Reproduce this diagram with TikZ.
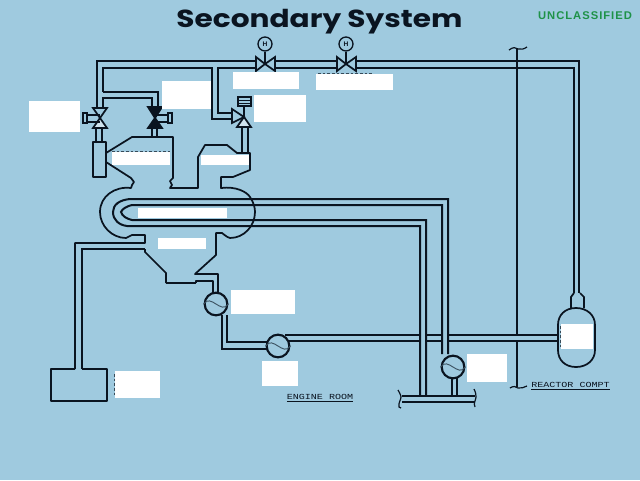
\documentclass[tikz,border=0pt]{standalone}
\usepackage{fontspec}
\usepackage{tikz}
\usetikzlibrary{positioning, calc, backgrounds}
\setmainfont{Liberation Sans}
\newfontfamily\titlefont[FakeStretch=1.2]{Poppins}
\newfontfamily\classfont[LetterSpace=9]{Liberation Sans}
\newfontfamily\placefont[FakeStretch=1.3]{Liberation Mono}
\definecolor{bgblue}{HTML}{9FCADF}
\definecolor{pipeblack}{HTML}{0A1420}
\definecolor{valvepale}{HTML}{CFE3EE}
\definecolor{classgreen}{HTML}{1E9248}
\tikzset{
    pipe/.style={line width=1.5pt, pipeblack, line join=miter},
    heavypipe/.style={line width=2pt, pipeblack, line join=miter},
    shell/.style={line width=1.3pt, pipeblack, line join=round},
    thinline/.style={line width=0.9pt, pipeblack},
    valveleaf/.style={line width=1.3pt, draw=pipeblack, fill=bgblue},
    pumpbody/.style={circle, draw=pipeblack, line width=1.6pt, fill=bgblue, minimum size=17pt, inner sep=0pt},
    gaugebody/.style={circle, draw=pipeblack, line width=1pt, fill=bgblue, minimum size=10.5pt, inner sep=0pt, font=\fontsize{5}{5}\selectfont\bfseries, text=pipeblack},
    wave/.style={line width=0.7pt, pipeblack!65!bgblue},
    maskbox/.style={fill=white, inner sep=0pt},
    placetag/.style={font=\placefont\fontsize{5.8}{6}\selectfont, text=pipeblack, inner sep=0pt},
    residue/.style={line width=0.6pt, pipeblack!70!bgblue, dash pattern=on 2pt off 1.5pt}
}
\begin{document}
\begin{tikzpicture}[x=0.75pt, y=-0.75pt]
    \fill[bgblue] (0,0) rectangle (640,480);
    \useasboundingbox (0,0) rectangle (640,480);
    % titles
    \node[font=\titlefont\fontsize{18.5}{20}\selectfont\bfseries, text=pipeblack, inner sep=0pt, anchor=base] (title) at (319.5,27) {Secondary System};
    \node[font=\classfont\fontsize{8.4}{9}\selectfont\bfseries, text=classgreen, inner sep=0pt] (classmark) at (585,16) {UNCLASSIFIED};

    % bulkhead
    \draw[thinline] (517,48) -- (517,335) (517,341) -- (517,387);
    \draw[thinline] (509,50) .. controls (513,47) and (516,47) .. (518,49) .. controls (521,50) and (524,49) .. (527,47);
    \draw[thinline] (510,388) .. controls (513,386) and (516,386) .. (518,388) .. controls (521,389) and (524,387) .. (527,386);

    % main steam
    \draw[pipe] (97,108) -- (97,61) -- (256,61);
    \draw[pipe] (276,61) -- (336,61) (356,61) -- (579,61) -- (579,293);
    \draw[pipe] (276,68) -- (336,68) (356,68) -- (574,68) -- (574,293);
    \draw[pipe] (256,68) -- (218,68) -- (218,113) -- (232,113);
    \draw[pipe] (103,92) -- (103,68) -- (212,68) -- (212,119) -- (232,119);
    \draw[pipe] (103,92) -- (158,92) -- (158,107);
    \draw[pipe] (103,108) -- (103,98) -- (152,98) -- (152,107);
    \draw[pipe] (96,128) -- (96,142) (102,128) -- (102,142);
    \draw[pipe] (152,128) -- (152,137) (157,128) -- (157,137);
    \draw[line width=2.2pt, pipeblack] (242,127) -- (242,153);
    \draw[pipe] (248,127) -- (248,153);

    % valves on the steam line
    \foreach \i/\x in {1/265, 2/346} {
        \draw[valveleaf] (\x-9,57) -- (\x,64) -- (\x-9,71) -- cycle;
        \draw[valveleaf] (\x+10,57) -- (\x,64) -- (\x+10,71) -- cycle;
        \node[gaugebody] (gauge\i) at (\x,44) {H};
        \draw[thinline] (gauge\i) -- (\x,64);
    }
    % stop valve
    \draw[valveleaf] (93,108) -- (107,108) -- (100,118) -- cycle;
    \draw[valveleaf, fill=valvepale] (93,128) -- (107,128) -- (100,118) -- cycle;
    \draw[thinline] (87,115) -- (100,115) (87,122) -- (100,122);
    \draw[thinline] (83,113) rectangle (87,123);
    % control valve
    \draw[valveleaf, fill=pipeblack] (148,107) -- (162,107) -- (155,118) -- cycle;
    \draw[valveleaf, fill=pipeblack] (148,128) -- (162,128) -- (155,118) -- cycle;
    \draw[thinline] (155,115) -- (168,115) (155,122) -- (168,122);
    \draw[thinline] (168,113) rectangle (172,123);
    % relief valve
    \draw[valveleaf] (232,109) -- (244,117) -- (232,123) -- cycle;
    \draw[valveleaf, fill=valvepale] (237,127) -- (251,127) -- (244,117) -- cycle;
    \draw[thinline] (244,117) -- (244,106);
    \draw[thinline] (238,97) rectangle (251,106);
    \draw[line width=0.6pt, pipeblack] (238,100) -- (251,100) (238,103) -- (251,103);

    % turbine casing
    \draw[shell] (93,142) rectangle (106,177);
    \draw[shell] (106,153) -- (132,137) -- (173,137) -- (173,178) -- (170,181) -- (172,185) -- (170,188) -- (198,188)
        -- (198,157) -- (205,145) -- (227,145) -- (237,153) -- (250,153) -- (250,170) -- (233,177) -- (221,177) -- (221,188)
        .. controls (236,186) and (247,192) .. (250,197) .. controls (254,203) and (255,208) .. (255,212)
        .. controls (255,226) and (244,238) .. (230,238) .. controls (226,237) and (224,234) .. (222,233)
        -- (216,233) -- (216,255) -- (195,274) -- (218,274) -- (218,293);
    \draw[shell] (106,162) -- (131,178) -- (134,182) -- (132,185) -- (131,188)
        .. controls (115,186) and (100,196) .. (100,212) .. controls (100,226) and (112,238) .. (126,238)
        -- (132,235) -- (145,235) -- (145,243) -- (75,243) -- (75,369);
    \draw[heavypipe] (82,369) -- (82,249) -- (145,249);
    \draw[shell] (145,249) -- (145,252) -- (166,273) -- (166,283);
    \draw[heavypipe] (166,283) -- (196,283);
    \draw[shell] (196,283) -- (196,281) -- (213,281) -- (213,293);

    % tube bundle and circulating water
    \draw[pipe] (448,354) -- (448,199) -- (130,199) .. controls (119,200) and (113,205) .. (113,212)
        .. controls (113,220) and (119,225) .. (127,226) -- (420,226) -- (420,396);
    \draw[pipe] (442,354) -- (442,205) -- (132,205) .. controls (127,206) and (122,209) .. (121,212)
        .. controls (122,216) and (127,219) .. (132,220) -- (426,220) -- (426,396);

    % condenser water main
    \draw[pipe] (402,396) -- (475,396) (402,402) -- (475,402);
    \draw[thinline] (398,390) .. controls (401,395) and (401,397) .. (401,397) .. controls (401,400) and (398,403) .. (399,407) -- (401,408);
    \draw[thinline] (474,389) .. controls (476,393) and (476,395) .. (476,397) .. controls (476,400) and (473,403) .. (475,407);
    \draw[pipe] (452,378) -- (452,396) (457,378) -- (457,396);

    % feed line
    \draw[heavypipe] (222,315) -- (222,349) -- (267,349);
    \draw[pipe] (227,315) -- (227,342) -- (267,342);
    \draw[heavypipe] (285,335) -- (420,335) (426,335) -- (442,335) (448,335) -- (558,335);
    \draw[pipe] (288,341) -- (420,341) (426,341) -- (442,341) (448,341) -- (558,341);

    % pumps
    \foreach \i/\x/\y in {1/216/304, 2/278/346, 3/453/367} {
        \node[pumpbody] (pump\i) at (\x,\y) {};
        \draw[wave] (pump\i.west) .. controls ($(pump\i.center)+(-5,-11)$) and ($(pump\i.center)+(5,11)$) .. (pump\i.east);
    }

    % steam generator
    \draw[shell] (558,325) .. controls (558,315) and (565,308) .. (576,308) .. controls (587,308) and (595,315) .. (595,325)
        -- (595,350) .. controls (595,360) and (587,367) .. (576,367) .. controls (565,367) and (558,360) .. (558,350) -- cycle;
    \draw[shell] (571,308) -- (571,297) -- (574,293) (584,308) -- (584,297) -- (580,293);

    % feed tank
    \draw[shell] (75,369) -- (51,369) -- (51,401) -- (107,401) -- (107,369) -- (82,369);
    \draw[heavypipe] (51,369) -- (75,369) (82,369) -- (107,369);

    % what shows round the masks
    \draw[residue] (318,73) -- (372,73) (112,151) -- (170,151);
    \draw[residue] (560,326) -- (560,348) (114,374) -- (114,396);

    % masked labels
    \foreach \i/\xa/\ya/\xb/\yb in {1/29/101/80/132, 2/162/81/211/109, 3/233/72/299/89, 4/316/74/393/90,
            5/254/95/306/122, 6/112/152/170/165, 7/201/155/249/165, 8/138/208/227/218, 9/158/238/206/249,
            10/231/290/295/314, 11/262/361/298/386, 12/467/354/507/382, 13/561/324/593/349, 14/115/371/160/398} {
        \node[maskbox, minimum width=(\xb-\xa)*0.75pt, minimum height=(\yb-\ya)*0.75pt] (box\i) at ({(\xa+\xb)/2},{(\ya+\yb)/2}) {};
    }

    % compartment tags
    \node[placetag] (engine) at (320,398.5) {\underline{ENGINE ROOM}};
    \node[placetag] (reactor) at (570.5,386) {\underline{REACTOR COMPT}};
\end{tikzpicture}
\end{document}
